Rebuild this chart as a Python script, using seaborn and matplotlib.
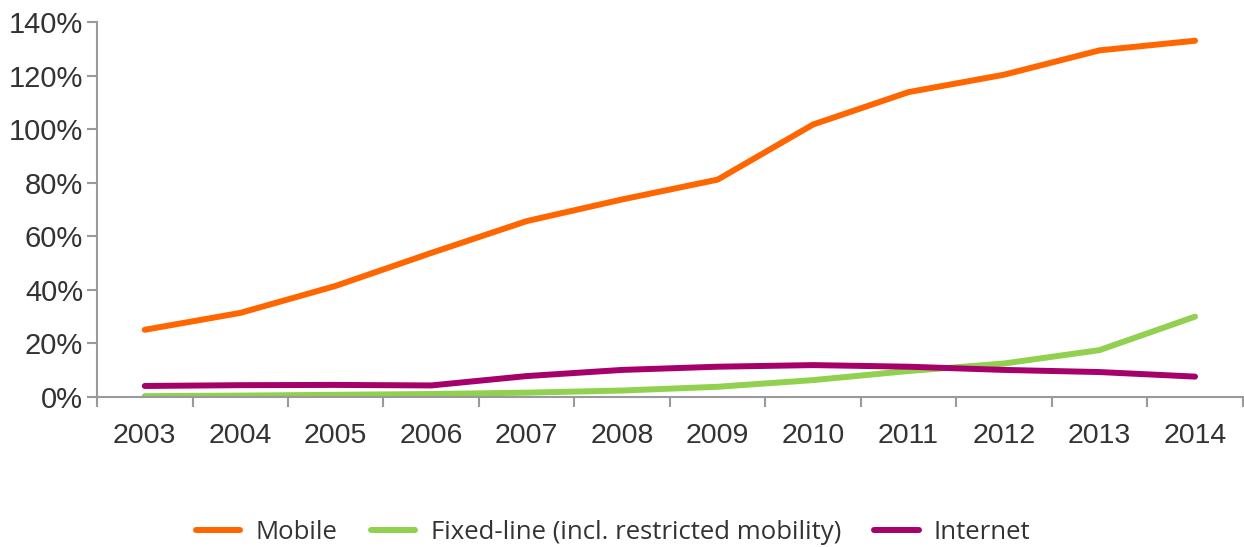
import matplotlib
matplotlib.use("Agg")
import matplotlib.pyplot as plt
from matplotlib.ticker import FixedLocator, FuncFormatter
import seaborn as sns
import pandas as pd

# Penetration by service, share of population (%)
years = ["2003", "2004", "2005", "2006", "2007", "2008",
         "2009", "2010", "2011", "2012", "2013", "2014"]
mobile = [25.0, 31.3, 41.4, 53.7, 65.6, 73.7, 81.1, 101.7, 113.8, 120.3, 129.4, 133.0]
fixed_line = [0.2, 0.4, 0.7, 1.0, 1.5, 2.3, 3.7, 6.2, 9.6, 12.4, 17.4, 29.9]
internet = [4.0, 4.3, 4.4, 4.2, 7.7, 10.0, 11.2, 11.8, 11.2, 10.0, 9.2, 7.5]

series_names = ["Mobile", "Fixed-line (incl. restricted mobility)", "Internet"]
series_colors = ["#FF6600", "#92D050", "#A6006B"]

df = pd.DataFrame({
    "pos": list(range(len(years))) * 3,
    "value": mobile + fixed_line + internet,
    "series": [series_names[0]] * len(years)
              + [series_names[1]] * len(years)
              + [series_names[2]] * len(years),
})

sns.set_style("white")
plt.rcParams["font.family"] = ["Liberation Sans", "DejaVu Sans"]

fig = plt.figure(figsize=(12.44, 5.47), dpi=100)
ax = fig.add_axes([0.078, 0.2748, 0.921, 0.685])

sns.lineplot(data=df, x="pos", y="value", hue="series",
             palette=dict(zip(series_names, series_colors)),
             hue_order=series_names, linewidth=4.3, ax=ax,
             legend=False, solid_capstyle="round")

ax.set_xlim(-0.5, len(years) - 0.5)
ax.set_ylim(0, 140)
ax.set_xlabel("")
ax.set_ylabel("")

axis_grey = "#9A9A9A"
text_grey = "#333333"
for side in ["top", "right"]:
    ax.spines[side].set_visible(False)
for side in ["left", "bottom"]:
    ax.spines[side].set_color(axis_grey)
    ax.spines[side].set_linewidth(1.5)

ax.set_yticks(range(0, 141, 20))
ax.yaxis.set_major_formatter(FuncFormatter(lambda v, p: f"{v:.0f}%"))
ax.tick_params(axis="y", which="major", direction="out", length=7, width=1.5,
               color=axis_grey, labelsize=21, labelcolor=text_grey, pad=3, left=True)

# category boundaries carry the tick marks, centres carry the year labels
ax.xaxis.set_major_locator(FixedLocator([i - 0.5 for i in range(len(years) + 1)]))
ax.xaxis.set_major_formatter(FuncFormatter(lambda v, p: ""))
ax.xaxis.set_minor_locator(FixedLocator(list(range(len(years)))))
ax.xaxis.set_minor_formatter(FuncFormatter(lambda v, p: years[int(round(v))]))
ax.tick_params(axis="x", which="major", direction="out", length=7, width=1.5,
               color=axis_grey, bottom=True)
ax.tick_params(axis="x", which="minor", length=0, labelsize=20.5,
               labelcolor=text_grey, pad=19, bottom=True)

handles = [plt.Line2D([0], [0], color=c, linewidth=4.3, solid_capstyle="round")
           for c in series_colors]
fig.legend(handles, series_names, loc="center", bbox_to_anchor=(0.493, 0.027),
           ncol=3, frameon=False, handlelength=1.72, handletextpad=0.6,
           columnspacing=1.3, labelcolor=text_grey,
           prop={"family": ["Open Sans", "DejaVu Sans"], "size": 18.5})

fig.savefig("out.png", dpi=100)
